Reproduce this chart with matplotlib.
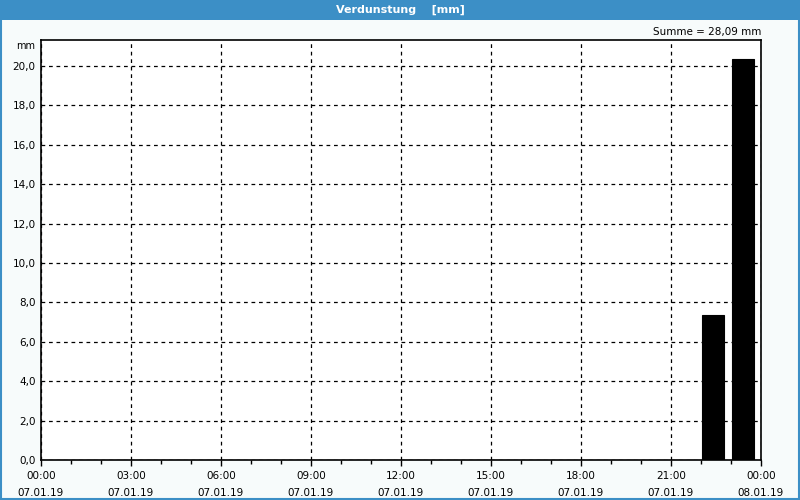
import numpy as np
import matplotlib.pyplot as plt
from matplotlib.patches import Rectangle
from matplotlib.ticker import MultipleLocator, FuncFormatter

# hourly evaporation, 07.01.19 00:00 - 08.01.19 00:00
hours = np.arange(24)
values = [0.02, 0.02, 0.01, 0.02, 0.02, 0.02, 0.01, 0.02, 0.02, 0.02, 0.01, 0.02,
          0.02, 0.02, 0.01, 0.02, 0.02, 0.02, 0.01, 0.02, 0.02, 0.02, 7.34, 20.36]
tick_hours = [0, 3, 6, 9, 12, 15, 18, 21, 24]
tick_labels = ["00:00\n07.01.19", "03:00\n07.01.19", "06:00\n07.01.19", "09:00\n07.01.19",
               "12:00\n07.01.19", "15:00\n07.01.19", "18:00\n07.01.19", "21:00\n07.01.19",
               "00:00\n08.01.19"]
title = "Verdunstung    [mm]"
summe = "Summe = 28,09 mm"

blue = "#3c8fc6"
bg = "#f7fbfb"

fig = plt.figure(figsize=(8, 5), dpi=100, facecolor=bg)

# title bar + frame
fig.patches.append(Rectangle((0, 0.96), 1, 0.04, transform=fig.transFigure,
                             facecolor=blue, edgecolor="none", zorder=0))
fig.patches.append(Rectangle((0.001, 0.002), 0.998, 0.996, transform=fig.transFigure,
                             facecolor="none", edgecolor=blue, lw=1.5, zorder=1))
fig.text(0.5, 0.981, title, color="white", fontsize=8, fontweight="bold",
         ha="center", va="center")

ax = fig.add_axes([41/800, 40/500, 720/800, 420/500])
ax.set_facecolor("white")
ax.bar(hours + 0.045, values, width=0.71, align="edge", color="black",
       edgecolor="black", linewidth=0.8, zorder=3)

ax.set_xlim(0, 24)
ax.set_ylim(0, 21.32)
ax.set_xticks(tick_hours)
ax.set_xticklabels(tick_labels, fontsize=7.5, linespacing=1.9)
ax.xaxis.set_minor_locator(MultipleLocator(1))
ax.yaxis.set_major_locator(MultipleLocator(2))
ax.yaxis.set_major_formatter(FuncFormatter(lambda v, p: f"{v:.1f}".replace(".", ",")))
ax.tick_params(axis="y", labelsize=7.5, length=0, pad=4)
ax.tick_params(axis="x", which="major", length=4, width=1, pad=4)
ax.tick_params(axis="x", which="minor", length=3, width=1)
ax.grid(True, which="major", color="black", linestyle=(0, (3, 3)), linewidth=0.9, zorder=1)
for s in ax.spines.values():
    s.set_linewidth(1.2)
    s.set_color("black")
    s.set_zorder(2)

fig.text(35/800, 1 - 46/500, "mm", fontsize=7, ha="right", va="center")
fig.text(761/800, 1 - 32/500, summe, fontsize=7.5, ha="right", va="center")

fig.savefig("out.png", dpi=100, facecolor=bg)
